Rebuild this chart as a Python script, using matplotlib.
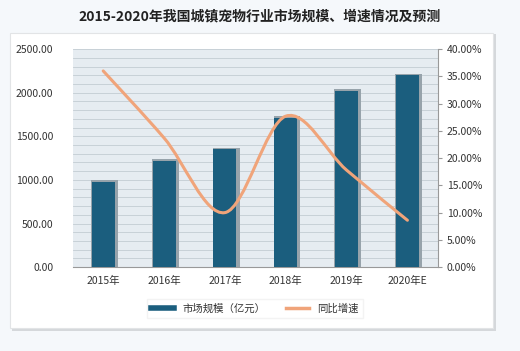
import matplotlib
matplotlib.use("Agg")
import matplotlib.pyplot as plt
from matplotlib.path import Path
from matplotlib.patches import PathPatch, Rectangle
from matplotlib.lines import Line2D
import numpy as np

plt.rcParams['font.family'] = ['Noto Sans CJK SC', 'DejaVu Sans']

years = ["2015年", "2016年", "2017年", "2018年", "2019年", "2020年E"]
market_size = [980, 1220, 1350, 1710, 2020, 2200]
growth = [36.0, 23.7, 10.0, 27.7, 17.8, 8.6]

bar_color = "#1b5e7e"
line_color = "#f0a47a"

fig = plt.figure(figsize=(5.2, 3.51), dpi=100)
fig.patch.set_facecolor("#f5f8fb")

# white panel with a soft shadow
fig.patches.append(Rectangle((0.023, 0.058), 0.93, 0.845, transform=fig.transFigure,
                             facecolor="#d5d8db", edgecolor="none", zorder=-10))
fig.patches.append(Rectangle((0.019, 0.066), 0.929, 0.840, transform=fig.transFigure,
                             facecolor="white", edgecolor="#e2e4e6", linewidth=0.8, zorder=-9))

ax = fig.add_axes([0.140, 0.239, 0.702, 0.621])
ax.set_facecolor("#e6ecf1")
x = np.arange(len(years))

# shadow + bars
ax.bar(x + 0.02, [v + 20 for v in market_size], width=0.44, color="#97a3ab", zorder=2)
ax.bar(x, market_size, width=0.38, color=bar_color, zorder=3)

ax.set_xlim(-0.5, len(years) - 0.5)
ax.set_ylim(0, 2500)
ax.set_yticks(np.arange(0, 2501, 500))
ax.set_yticklabels([f"{v:.2f}" for v in np.arange(0, 2501, 500)])
ax.set_yticks(np.arange(0, 2501, 100), minor=True)
ax.grid(axis="y", which="both", color="#c3ccd3", linewidth=0.6, zorder=0)
ax.set_axisbelow(True)
ax.set_xticks(x)
ax.set_xticklabels(years)
ax.tick_params(axis="both", which="both", length=0, labelsize=7.5, colors="#333333")
ax.tick_params(axis="y", pad=14)
ax.tick_params(axis="x", pad=6)
for s in ax.spines.values():
    s.set_visible(False)
ax.spines["bottom"].set_visible(True)
ax.spines["bottom"].set_color("#999999")

ax2 = ax.twinx()
ax2.set_ylim(0, 40)
ax2.set_yticks(np.arange(0, 41, 5))
ax2.set_yticklabels([f"{v:.2f}%" for v in np.arange(0, 41, 5)])
ax2.tick_params(axis="y", length=3, color="#999999", labelsize=7.5, colors="#333333")
for s in ax2.spines.values():
    s.set_visible(False)
ax2.spines["right"].set_visible(True)
ax2.spines["right"].set_color("#999999")

# smoothed line (Catmull-Rom style bezier through the data points)
pts = np.column_stack([x, growth]).astype(float)
verts = [tuple(pts[0])]
codes = [Path.MOVETO]
t = 1 / 6
for i in range(len(pts) - 1):
    p0 = pts[i - 1] if i > 0 else pts[i]
    p1 = pts[i]
    p2 = pts[i + 1]
    p3 = pts[i + 2] if i + 2 < len(pts) else pts[i + 1]
    c1 = p1 + (p2 - p0) * t
    c2 = p2 - (p3 - p1) * t
    verts += [tuple(c1), tuple(c2), tuple(p2)]
    codes += [Path.CURVE4] * 3
ax2.add_patch(PathPatch(Path(verts, codes), facecolor="none", edgecolor=line_color,
                        linewidth=2.2, zorder=5, capstyle="round"))

fig.text(0.5, 0.952, "2015-2020年我国城镇宠物行业市场规模、增速情况及预测",
         ha="center", va="center", fontsize=10, fontweight="bold", color="#222222")

handles = [Line2D([], [], color=bar_color, linewidth=4),
           Line2D([], [], color=line_color, linewidth=2.5)]
leg = fig.legend(handles, ["市场规模（亿元）", "同比增速"], loc="center",
                 bbox_to_anchor=(0.49, 0.122), ncol=2, fontsize=7.5, frameon=True,
                 handlelength=2.2, columnspacing=2.0, fancybox=False,
                 edgecolor="#f0f0f0")
for t_ in leg.get_texts():
    t_.set_color("#333333")

fig.savefig("out.png", dpi=100, facecolor=fig.get_facecolor())
